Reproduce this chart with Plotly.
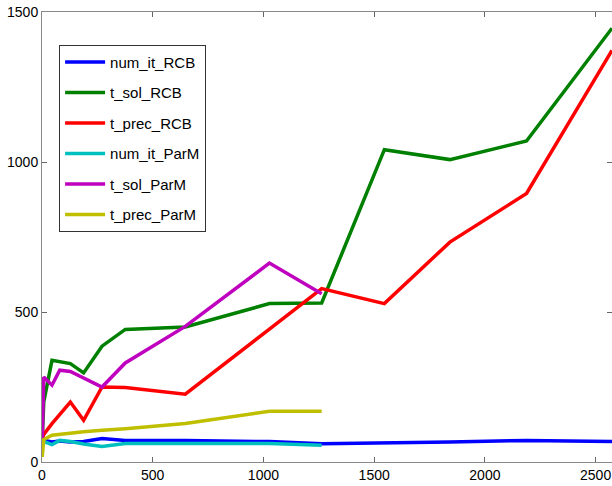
import plotly.graph_objects as go

x_rcb = [1, 8, 45, 80, 128, 188, 271, 376, 647, 1027, 1263, 1546, 1842, 2188, 2574]
x_parm = [1, 8, 45, 80, 128, 188, 271, 376, 647, 1027, 1263]

num_it_RCB = [70, 72, 67, 70, 67, 68, 78, 72, 72, 68, 61, 63, 67, 72, 68]
t_sol_RCB = [75, 200, 339, 334, 328, 297, 386, 442, 450, 528, 530, 1041, 1008, 1070, 1446]
t_prec_RCB = [75, 92, 128, 158, 200, 139, 250, 248, 226, 443, 578, 528, 733, 895, 1372]

num_it_ParM = [70, 68, 58, 72, 68, 60, 52, 62, 62, 62, 56]
t_sol_ParM = [75, 283, 256, 306, 302, 281, 250, 330, 452, 663, 561]
t_prec_ParM = [17, 75, 89, 92, 97, 101, 106, 111, 128, 169, 169]

series = [
    ("num_it_RCB", x_rcb, num_it_RCB, "rgb(0,0,255)"),
    ("t_sol_RCB", x_rcb, t_sol_RCB, "rgb(0,128,0)"),
    ("t_prec_RCB", x_rcb, t_prec_RCB, "rgb(255,0,0)"),
    ("num_it_ParM", x_parm, num_it_ParM, "rgb(0,191,191)"),
    ("t_sol_ParM", x_parm, t_sol_ParM, "rgb(191,0,191)"),
    ("t_prec_ParM", x_parm, t_prec_ParM, "rgb(191,191,0)"),
]

fig = go.Figure()
for i, (name, xs, ys, col) in enumerate(series):
    fig.add_trace(go.Scatter(x=xs, y=ys, name=name, mode="lines",
                             line=dict(color=col, width=3.5),
                             legendgroup="g%d" % i))

axis_common = dict(showgrid=False, zeroline=False, showline=True,
                   linecolor="#888888", linewidth=1, mirror="ticks",
                   ticks="inside", ticklen=5, tickcolor="#666666",
                   tickfont=dict(family="Liberation Sans, Arial", size=14, color="black"))

fig.update_layout(
    width=612, height=486,
    margin=dict(l=42, r=0, t=12, b=24),
    paper_bgcolor="white", plot_bgcolor="white",
    showlegend=True,
    legend=dict(x=0.03, y=0.927, xanchor="left", yanchor="top",
                bgcolor="white", bordercolor="#333333", borderwidth=1,
                font=dict(family="Liberation Sans, Arial", size=15, color="black"),
                traceorder="grouped", tracegroupgap=8, itemwidth=40),
    xaxis=dict(range=[0, 2574], tickvals=[0, 500, 1000, 1500, 2000, 2500], **axis_common),
    yaxis=dict(range=[0, 1500], tickvals=[0, 500, 1000, 1500], **axis_common),
)

fig.write_html("out.html", config={"displayModeBar": False},
               post_script="document.body.style.margin='0';document.body.style.overflow='hidden';")
